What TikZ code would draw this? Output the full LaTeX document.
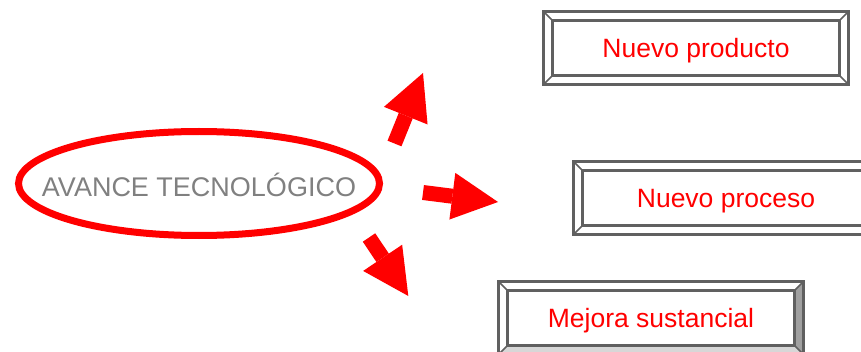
\documentclass[tikz,border=0pt]{standalone}
\usepackage{fontspec}
\setmainfont{Liberation Sans}
\usetikzlibrary{arrows.meta,calc}
\definecolor{ovred}{RGB}{255,0,0}
\definecolor{txtgray}{RGB}{128,128,128}
\definecolor{framegray}{RGB}{96,96,96}
\definecolor{bevelgray}{RGB}{160,160,160}
\definecolor{bevellight}{RGB}{215,215,215}

% bevelled frame round a box node
\newcommand{\bevelframe}[3]{
  \coordinate (#1-inw) at ($(#1.north west)+(9,-9)$);
  \coordinate (#1-ine) at ($(#1.north east)+(-9,-9)$);
  \coordinate (#1-ise) at ($(#1.south east)+(-9,9)$);
  \coordinate (#1-isw) at ($(#1.south west)+(9,9)$);
  \fill[#2] (#1.north east) -- (#1.south east) -- (#1-ise) -- (#1-ine) -- cycle;
  \fill[#3] (#1.south west) -- (#1.south east) -- (#1-ise) -- (#1-isw) -- cycle;
  \draw[frame] (#1.north west) rectangle (#1.south east);
  \draw[frame] (#1-inw) rectangle (#1-ise);
  \draw[framegray,line width=1.5] (#1.north west) -- (#1-inw) (#1.north east) -- (#1-ine)
    (#1.south east) -- (#1-ise) (#1.south west) -- (#1-isw);
}

\begin{document}
\begin{tikzpicture}[x=1pt,y=1pt,
    every node/.style={font=\fontsize{26.5}{30}\selectfont,text depth=0pt},
    frame/.style={draw=framegray,line width=3},
    box/.style={rectangle,minimum width=304,minimum height=72,inner sep=0,text=ovred},
    fat/.style={ovred,line width=15,-{Triangle[length=46,width=47,line width=0pt]}}]
      \clip (0,0) rectangle (861,351);
      % Central ellipse
      \node[text=txtgray,font=\fontsize{27}{30}\selectfont] (avance) at (199,166) {AVANCE TECNOLÓGICO};
      \draw[ovred,line width=7] (199,167.5) ellipse [x radius=180.5,y radius=52];
      % Result boxes
      \node[box] (producto) at (696,303) {Nuevo producto};
      \node[box] (proceso) at (726,153) {Nuevo proceso};
      \node[box] (mejora) at (651,33) {Mejora sustancial};
      \bevelframe{producto}{white}{white}
      \bevelframe{proceso}{white}{white}
      \bevelframe{mejora}{bevelgray}{bevellight}
      % Block arrows
      \coordinate (up tail) at (394.5,207.5);
      \coordinate (up tip) at (423,278);
      \coordinate (mid tail) at (423,158.5);
      \coordinate (mid tip) at (498,149);
      \coordinate (low tail) at (369,113.5);
      \coordinate (low tip) at (408.3,55);
      \draw[fat] (up tail) -- (up tip);
      \draw[fat] (mid tail) -- (mid tip);
      \draw[fat] (low tail) -- (low tip);
    \end{tikzpicture}
\end{document}
